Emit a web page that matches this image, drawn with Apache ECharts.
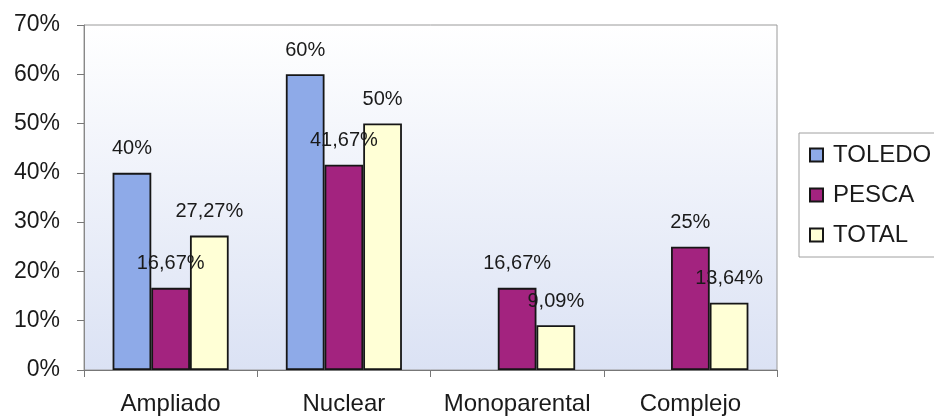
<!DOCTYPE html>
<html>
<head>
<meta charset="utf-8">
<script src="https://cdn.jsdelivr.net/npm/echarts@6/dist/echarts.min.js"></script>
<style>
  html, body { margin: 0; padding: 0; background: #fff; }
  #main { width: 934px; height: 418px; }
</style>
</head>
<body>
<div id="main"></div>
<script>
const categories = ['Ampliado', 'Nuclear', 'Monoparental', 'Complejo']
const toledo = [40, 60, '-', '-']
const pesca = [16.67, 41.67, 16.67, 25]
const total = [27.27, 50, 9.09, 13.64]
const yTicks = [0, 10, 20, 30, 40, 50, 60, 70]

const font = 'Liberation Sans, Arial, sans-serif'

function pct(v) {
  if (Number.isInteger(v)) return v + '%'
  return v.toFixed(2).replace('.', ',') + '%'
}

const myChart = echarts.init(document.getElementById('main'))

const barLabel = {
  show: true,
  position: 'top',
  distance: 14,
  fontFamily: font,
  fontSize: 20,
  color: '#1a1a1a',
  formatter: p => pct(p.value)
}

function bar(name, data, color) {
  return {
    name: name,
    type: 'bar',
    data: data,
    barGap: '0%',
    barCategoryGap: '33%',
    itemStyle: { color: color, borderColor: '#161616', borderWidth: 1.8 },
    label: barLabel
  }
}

myChart.setOption({
  animation: false,
  grid: {
    left: 84,
    right: 157,
    top: 25,
    bottom: 48,
    show: true,
    borderColor: '#9a9a9a',
    borderWidth: 1,
    backgroundColor: new echarts.graphic.LinearGradient(0, 0, 0, 1, [
      { offset: 0, color: '#ffffff' },
      { offset: 1, color: '#dbe2f4' }
    ])
  },
  legend: {
    orient: 'vertical',
    left: 799,
    top: 133,
    padding: [10, 10, 10, 10],
    itemWidth: 13,
    itemHeight: 13,
    itemGap: 16,
    borderColor: '#a0a0a0',
    borderWidth: 1,
    icon: 'rect',
    textStyle: { fontFamily: font, fontSize: 24, color: '#1a1a1a', padding: [0, 0, 0, 5] },
    data: ['TOLEDO', 'PESCA', 'TOTAL']
  },
  xAxis: {
    type: 'category',
    data: categories,
    axisLine: { lineStyle: { color: '#777' } },
    axisTick: { show: true, length: 7, lineStyle: { color: '#777' } },
    axisLabel: { interval: 0, margin: 22, fontFamily: font, fontSize: 24, color: '#1a1a1a' }
  },
  yAxis: {
    type: 'value',
    min: 0,
    max: 70,
    interval: 10,
    axisLine: { show: true, lineStyle: { color: '#888' } },
    axisTick: { show: true, length: 7, lineStyle: { color: '#777' } },
    splitLine: { show: false },
    axisLabel: {
      margin: 24,
      fontFamily: font,
      fontSize: 23,
      color: '#1a1a1a',
      formatter: v => yTicks.includes(v) ? v + '%' : ''
    }
  },
  series: [
    bar('TOLEDO', toledo, '#8eaae8'),
    bar('PESCA', pesca, '#a3237f'),
    bar('TOTAL', total, '#ffffd6')
  ]
})
</script>
</body>
</html>
